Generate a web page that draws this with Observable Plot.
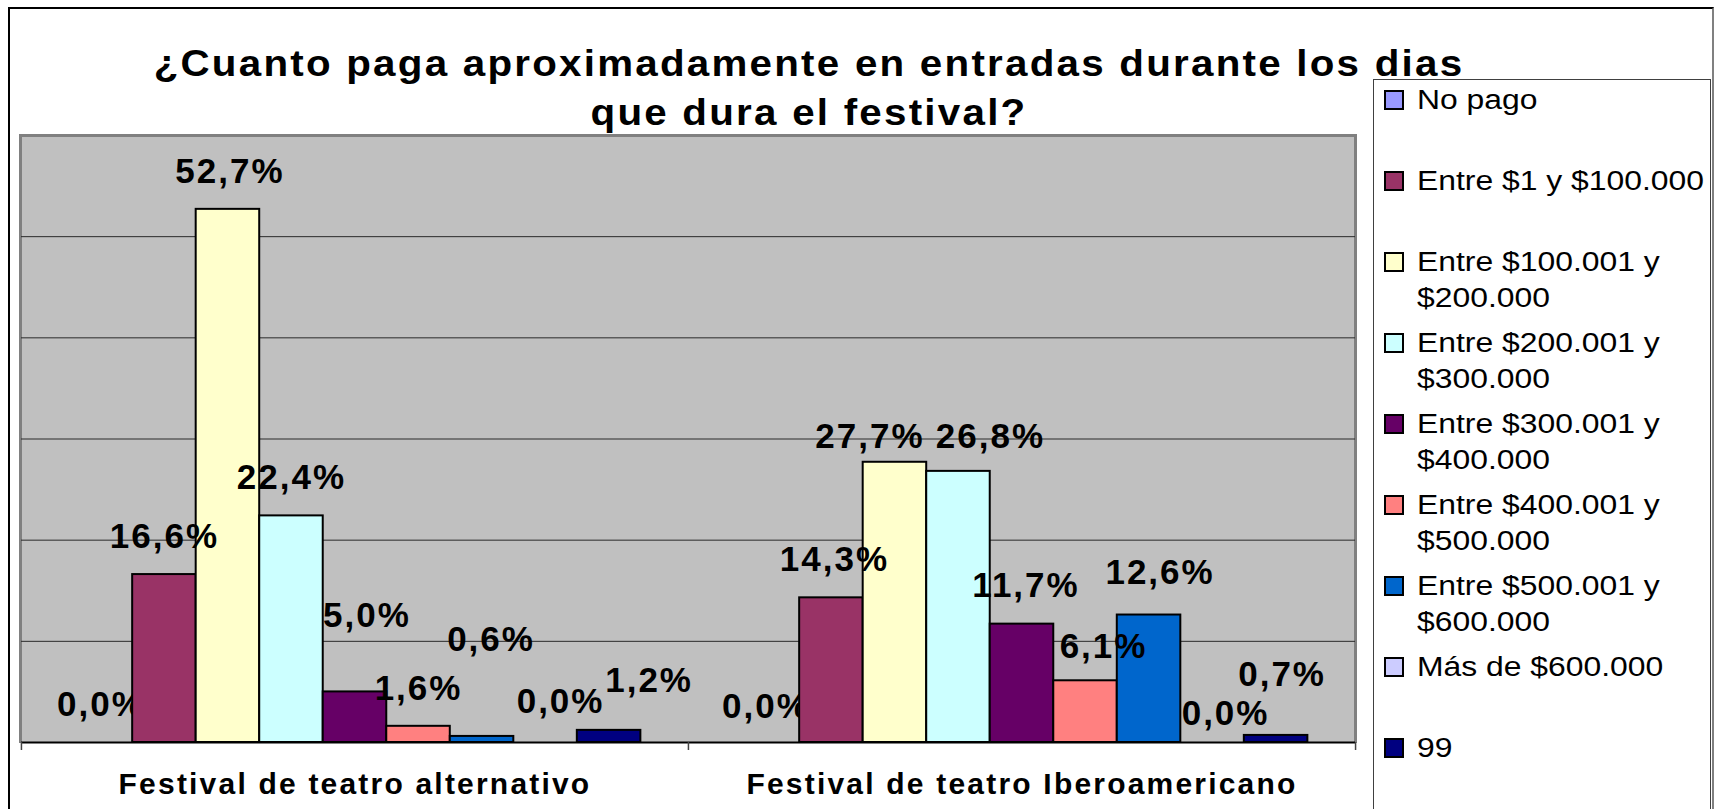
<!DOCTYPE html>
<html>
<head>
<meta charset="utf-8">
<script src="https://cdn.jsdelivr.net/npm/d3@7"></script>
<script src="https://cdn.jsdelivr.net/npm/@observablehq/plot@0.6"></script>
<style>
html,body{margin:0;padding:0;background:#fff;overflow:hidden;}
#wrap{position:relative;width:1714px;height:809px;overflow:hidden;font-family:"Liberation Sans",Arial,Helvetica,sans-serif;color:#000;}
#border{position:absolute;left:8px;top:7px;width:1706px;height:900px;border:2px solid #000;border-right-color:#808080;box-sizing:border-box;}
#plotbg{position:absolute;left:19px;top:134px;width:1338px;height:609px;background:#c0c0c0;border:3px solid #808080;border-bottom:none;box-sizing:border-box;}
#chart{position:absolute;left:0;top:0;}
#chart svg{overflow:visible;}
#chart g[aria-label="text"] text{letter-spacing:2px;}
#chart g[aria-label^="fx-axis"] text{letter-spacing:2.2px;}
#title{position:absolute;left:0;width:1618px;top:39px;text-align:center;font-weight:bold;font-size:36px;letter-spacing:2px;line-height:49px;white-space:nowrap;transform:scaleX(1.12);transform-origin:809px 0;}
#legend{position:absolute;left:1373px;top:79px;width:338px;height:900px;border:1px solid #404040;box-sizing:border-box;background:#fff;}
.item{position:absolute;left:0;height:81px;width:100%;}
.sw{position:absolute;left:10px;top:8px;width:20px;height:20px;border:2px solid #000;box-sizing:border-box;}
.txt{position:absolute;left:43px;top:0;font-size:27px;line-height:36px;white-space:nowrap;transform:scaleX(1.18);transform-origin:0 0;}
</style>
</head>
<body>
<div id="wrap">
  <div id="border"></div>
  <div id="plotbg"></div>
  <div id="chart"></div>
  <div id="legend"></div>
  <div id="title"></div>
</div>
<script>
// ---- data ----
const titleLines = ["¿Cuanto paga aproximadamente en entradas durante los dias", "que dura el festival?"];
const groups = ["Festival de teatro alternativo", "Festival de teatro Iberoamericano"];
const series = ["No pago", "Entre $1 y $100.000", "Entre $100.001 y $200.000", "Entre $200.001 y $300.000", "Entre $300.001 y $400.000", "Entre $400.001 y $500.000", "Entre $500.001 y $600.000", "Más de $600.000", "99"];
const alternativo = [0.0, 16.6, 52.7, 22.4, 5.0, 1.6, 0.6, 0.0, 1.2];
const iberoamericano = [0.0, 14.3, 27.7, 26.8, 11.7, 6.1, 12.6, 0.0, 0.7];
const colors = ["#9999FF", "#993366", "#FFFFCC", "#CCFFFF", "#660066", "#FF8080", "#0066CC", "#CCCCFF", "#000080"];
const gridValues = [10, 20, 30, 40, 50];
// label placement nudges (px) as in the original
const nudgesAlternativo = [[0,-38],[0,-38],[2,-38],[0,-38],[12,-76],[0,-38],[9,-97],[15,-41],[40,-50]];
const nudgesIbero = [[-2,-36],[3,-38],[-25,-25],[32,-35],[4,-38],[18,-34],[11,-42],[13,-29],[6,-61]];
// labels that the original draws beneath neighbouring bars
const behindAlternativo = [true, false, false, false, true, false, false, false, false];
const behindIbero = [true, false, false, false, false, false, false, false, false];

// ---- build ----
const valuesByGroup = [alternativo, iberoamericano];
const nudgesByGroup = [nudgesAlternativo, nudgesIbero];
const behindByGroup = [behindAlternativo, behindIbero];
const rows = [];
groups.forEach((g, gi) => series.forEach((s, si) => rows.push({
  group: g, series: s, value: valuesByGroup[gi][si], nudge: nudgesByGroup[gi][si], behind: behindByGroup[gi][si]
})));

const W = 1714, H = 809, mL = 20, mR = 359, mT = 135, mB = 67;
const outerPad = 0.75;
const step = (W - mL - mR) / groups.length / (series.length + 2 * outerPad);
const fmt = v => v.toFixed(1).replace(".", ",") + "%";

const labelMark = r => Plot.text([r], {
  fx: "group", x: "series", y: "value", text: d => fmt(d.value),
  dx: r.nudge[0], dy: r.nudge[1],
  fontSize: 35, fontWeight: "bold", fill: "black", lineAnchor: "middle", textAnchor: "middle"
});

const chart = Plot.plot({
  width: W, height: H,
  marginLeft: mL, marginRight: mR, marginTop: mT, marginBottom: mB,
  style: {background: "transparent", fontFamily: '"Liberation Sans", Arial, sans-serif', fontSize: "30px", fontWeight: "bold", color: "black"},
  fx: {domain: groups, padding: 0, axis: "bottom", label: null, tickSize: 0, tickPadding: 30},
  x: {domain: series, paddingInner: 0, paddingOuter: outerPad, round: false, axis: null},
  y: {domain: [0, 60], axis: null},
  color: {domain: series, range: colors},
  marks: [
    Plot.ruleY(gridValues, {stroke: "#2a2a2a", strokeWidth: 1}),
    ...rows.filter(r => r.behind).map(labelMark),
    Plot.barY(rows, {fx: "group", x: "series", y: "value", fill: "series", stroke: "black", strokeWidth: 2}),
    ...rows.filter(r => !r.behind).map(labelMark),
    Plot.ruleY([0], {stroke: "black", strokeWidth: 2}),
    Plot.ruleX(groups.map(g => ({group: g, series: series[0]})), {fx: "group", x: "series", dx: -(0.5 + outerPad) * step, insetTop: H - mT - mB, insetBottom: -8, stroke: "#444", strokeWidth: 1.5}),
    Plot.ruleX([{group: groups[groups.length - 1], series: series[series.length - 1]}], {fx: "group", x: "series", dx: (0.5 + outerPad) * step, insetTop: H - mT - mB, insetBottom: -8, stroke: "#444", strokeWidth: 1.5})
  ]
});
document.getElementById("chart").appendChild(chart);

// ---- title ----
const t = document.getElementById("title");
titleLines.forEach((line, i) => { if (i) t.appendChild(document.createElement("br")); t.appendChild(document.createTextNode(line)); });

// ---- legend ----
function wrap(label, maxChars) {
  const words = label.split(" "), lines = [];
  let cur = "";
  for (const w of words) {
    const test = cur ? cur + " " + w : w;
    if (test.length > maxChars && cur) { lines.push(cur); cur = w; } else cur = test;
  }
  if (cur) lines.push(cur);
  return lines;
}
const legend = document.getElementById("legend");
series.forEach((s, i) => {
  const item = document.createElement("div");
  item.className = "item";
  item.style.top = (2 + i * 81) + "px";
  const sw = document.createElement("span");
  sw.className = "sw";
  sw.style.background = colors[i];
  const txt = document.createElement("div");
  txt.className = "txt";
  wrap(s, 19).forEach((l, j) => { if (j) txt.appendChild(document.createElement("br")); txt.appendChild(document.createTextNode(l)); });
  item.appendChild(sw);
  item.appendChild(txt);
  legend.appendChild(item);
});
</script>
</body>
</html>
